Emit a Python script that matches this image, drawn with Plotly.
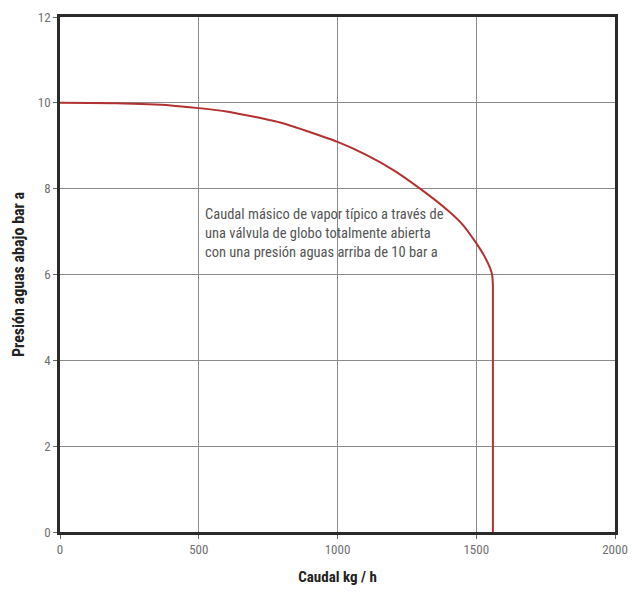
import plotly.graph_objects as go

caudal = [0, 200, 400, 600, 800, 1000, 1100, 1200, 1300, 1400, 1450, 1500, 1530, 1550, 1557, 1560, 1560]
presion = [10.0, 9.99, 9.94, 9.80, 9.53, 9.09, 8.80, 8.44, 7.99, 7.48, 7.17, 6.73, 6.42, 6.15, 6.0, 5.75, 0.0]

x_ticks = [0, 500, 1000, 1500, 2000]
y_ticks = [0, 2, 4, 6, 8, 10, 12]

note = "Caudal másico de vapor típico a través de<br>una válvula de globo totalmente abierta<br>con una presión aguas arriba de 10 bar a"

FONT = "Liberation Sans Narrow, Roboto Condensed, Arial Narrow, Roboto, sans-serif"

fig = go.Figure()
fig.add_trace(go.Scatter(
    x=caudal, y=presion, mode="lines",
    line=dict(color="#b23232", width=2, shape="spline", smoothing=0.5),
    hoverinfo="skip", showlegend=False,
))

fig.add_annotation(
    x=515, y=6.95, xref="x", yref="y", text=note, showarrow=False,
    xanchor="left", yanchor="middle", align="left",
    font=dict(family=FONT, size=14.5, color="#555555"),
)

axis_common = dict(
    showgrid=True, gridcolor="#8a8a8a", gridwidth=1,
    showline=True, linecolor="#2a2a2a", linewidth=2.5, mirror=True,
    ticks="outside", ticklen=4, tickcolor="#666666",
    tickfont=dict(family=FONT, size=13, color="#707070"),
    zeroline=False, automargin=False, ticklabeloverflow="allow",
)

fig.update_xaxes(
    range=[0, 2000], tickvals=x_ticks, ticktext=[str(v) for v in x_ticks],
    title=dict(text="<b>Caudal kg / h</b>", font=dict(family=FONT, size=15, color="#222222"), standoff=16),
    **axis_common,
)
fig.update_yaxes(
    range=[0, 12], tickvals=y_ticks, ticktext=[str(v) for v in y_ticks],
    title=dict(text="<b>Presión aguas abajo bar a</b>", font=dict(family=FONT, size=16, color="#222222"), standoff=10),
    **axis_common,
)

fig.update_layout(
    width=632, height=594,
    margin=dict(l=60, r=17, t=17, b=62),
    plot_bgcolor="white", paper_bgcolor="white",
)

fig.write_html("out.html", config={"displayModeBar": False},
               post_script="document.body.style.margin='0';")
